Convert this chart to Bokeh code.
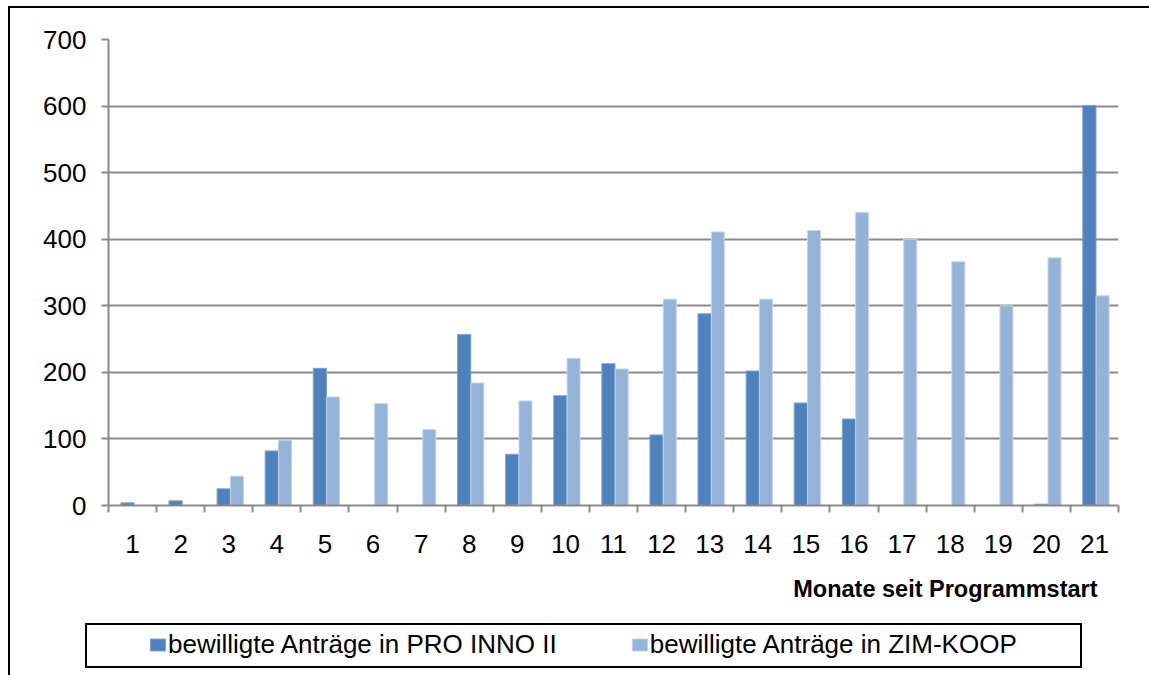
from bokeh.plotting import figure
from bokeh.layouts import column
from bokeh.models import (ColumnDataSource, FixedTicker, Legend, LegendItem,
                          Title, Range1d)
from bokeh.transform import dodge
from bokeh.embed import file_html
from bokeh.resources import INLINE

# ---- data ----
months = [str(m) for m in range(1, 22)]
pro_inno = [4, 7, 25, 82, 206, 0, 0, 257, 77, 165, 213, 106, 288, 202, 154, 130, 0, 0, 0, 2, 601]
zim_koop = [0, 0, 44, 98, 163, 153, 114, 184, 157, 221, 205, 310, 411, 310, 413, 440, 400, 366, 300, 372, 315]
y_ticks = [0, 100, 200, 300, 400, 500, 600, 700]
series_names = ["bewilligte Anträge in PRO INNO II", "bewilligte Anträge in ZIM-KOOP"]
x_title = "Monate seit Programmstart"

pos = list(range(1, len(months) + 1))
src = ColumnDataSource(dict(x=pos, pro=pro_inno, zim=zim_koop))

FONT = "Liberation Sans"
GRID = "#8a8a8a"
DARK = "#4F81BD"
LIGHT = "#95B3D7"

p = figure(width=1149, height=623, output_backend="svg", toolbar_location=None,
           x_range=Range1d(0.5, len(months) + 0.5), y_range=Range1d(0, 700),
           min_border_left=108, min_border_right=31, min_border_top=39,
           min_border_bottom=118)
p.outline_line_color = None
p.background_fill_color = "white"
p.border_fill_alpha = 0
# outer chart frame: only its left and top edges fall inside the picture
p.styles = {
    "background-color": "white",
    "background-image": "linear-gradient(#000, #000), linear-gradient(#000, #000)",
    "background-size": "2px 100%, 100% 2px",
    "background-position": "8px 6px, 8px 6px",
    "background-repeat": "no-repeat",
}

r1 = p.vbar(x=dodge("x", -0.105, range=p.x_range), top="pro", width=0.275, source=src,
            fill_color=DARK, line_color="#7fa3cf", line_width=1)
r2 = p.vbar(x=dodge("x", 0.17, range=p.x_range), top="zim", width=0.27, source=src,
            fill_color=LIGHT, line_color="#c3d4ea", line_width=1)

# x axis
xt = FixedTicker(ticks=pos, minor_ticks=[i + 0.5 for i in range(0, len(months) + 1)])
p.xaxis.ticker = xt
p.xaxis.major_label_overrides = {i: m for i, m in zip(pos, months)}
p.xaxis.major_tick_line_color = None
p.xaxis.major_tick_out = 0
p.xaxis.major_tick_in = 0
p.xaxis.minor_tick_out = 7
p.xaxis.minor_tick_in = 0
p.xaxis.minor_tick_line_color = GRID
p.xaxis.minor_tick_line_width = 2
p.xaxis.axis_line_color = GRID
p.xaxis.axis_line_width = 2
p.xaxis.major_label_text_font = FONT
p.xaxis.major_label_text_font_size = "26px"
p.xaxis.major_label_text_color = "black"
p.xaxis.major_label_standoff = 22

# y axis
p.yaxis.ticker = FixedTicker(ticks=y_ticks)
p.yaxis.minor_tick_line_color = None
p.yaxis.major_tick_out = 7
p.yaxis.major_tick_in = 0
p.yaxis.major_tick_line_color = GRID
p.yaxis.major_tick_line_width = 2
p.yaxis.axis_line_color = GRID
p.yaxis.axis_line_width = 2
p.yaxis.major_label_text_font = FONT
p.yaxis.major_label_text_font_size = "26px"
p.yaxis.major_label_text_color = "black"
p.yaxis.major_label_standoff = 15

p.xgrid.grid_line_color = None
p.ygrid.grid_line_color = GRID
p.ygrid.grid_line_width = 2

t = Title(text=x_title, align="right", offset=21, text_font=FONT,
          text_font_size="23.5px", text_font_style="bold", text_color="black",
          standoff=36)
p.add_layout(t, "below")

# ---- legend strip (own small figure; its renderers mirror the series, hidden) ----
lg = figure(width=1149, height=52, output_backend="svg", toolbar_location=None,
            x_range=Range1d(0.5, len(months) + 0.5), y_range=Range1d(0, 700),
            x_axis_location=None, y_axis_location=None,
            min_border=0, min_border_left=0, min_border_right=0,
            min_border_top=0, min_border_bottom=0)
lg.outline_line_color = None
lg.grid.visible = False
lg.background_fill_alpha = 0
lg.border_fill_alpha = 0
# outer frame's left edge + the legend's box
lg.styles = {
    "background-color": "white",
    "background-image": ", ".join(["linear-gradient(#000, #000)"] * 5),
    "background-size": "2px 100%, 2px 44px, 2px 44px, 997px 2px, 997px 2px",
    "background-position": "8px 0px, 85px 0px, 1080px 0px, 85px 0px, 85px 43px",
    "background-repeat": "no-repeat",
}
l1 = lg.vbar(x="x", top="pro", width=0.275, source=src,
             fill_color=DARK, line_color="#7fa3cf", line_width=1, visible=False)
l2 = lg.vbar(x="x", top="zim", width=0.27, source=src,
             fill_color=LIGHT, line_color="#c3d4ea", line_width=1, visible=False)

legend = Legend(items=[LegendItem(label=series_names[0], renderers=[l1]),
                       LegendItem(label=series_names[1], renderers=[l2])],
                orientation="horizontal", location=(34, 9),
                glyph_width=19, glyph_height=15, label_standoff=1, spacing=73,
                padding=6, margin=0, border_line_alpha=0, background_fill_alpha=0,
                label_text_font=FONT, label_text_font_size="26px", label_text_color="black")
lg.add_layout(legend)

layout = column(p, lg, spacing=0)
open("out.html", "w").write(file_html(layout, INLINE))
